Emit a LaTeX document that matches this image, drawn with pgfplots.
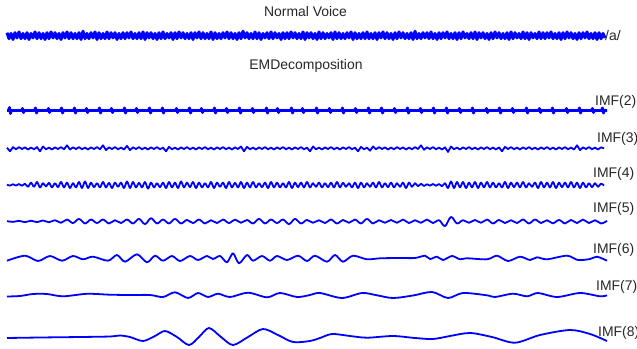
\documentclass[border=0pt]{standalone}
\usepackage{fontspec}
\setmainfont{Liberation Sans}
\usepackage{pgfplots}
\pgfplotsset{compat=1.18}
\definecolor{sig}{RGB}{0,0,255}
\tikzset{lbl/.style={font=\fontsize{14}{16}\selectfont, text=black!85, inner sep=0pt}}
\begin{document}
\begin{tikzpicture}
\begin{axis}[
  scale only axis, width=637bp, height=349bp,
  xmin=0, xmax=637, ymin=0, ymax=349, y dir=reverse,
  hide axis, clip=false,
  every axis plot/.append style={sig, line join=round, no markers},
]
\path (axis cs:0,0) rectangle (axis cs:637,349);
% Normal voice /a/
\addplot[line width=3bp] table[header=false, row sep=\\, x expr=7+2*\coordindex, y expr=35.7-0.75*\thisrowno{0}] {
4\\-4\\3\\-5\\4\\-3\\5\\-4\\3\\-4\\4\\-5\\3\\-3\\5\\-4\\4\\-4\\3\\-5\\4\\-4\\5\\-3\\4\\-4\\3\\-5\\4\\-3\\
5\\-4\\4\\-4\\3\\-4\\4\\-5\\6\\-4\\3\\-4\\4\\-3\\5\\-5\\4\\-4\\3\\-4\\5\\-4\\4\\-3\\4\\-5\\3\\-4\\4\\-4\\
4\\-3\\5\\-4\\3\\-4\\4\\-4\\5\\-5\\4\\-3\\4\\-4\\3\\-5\\4\\-4\\5\\-4\\3\\-3\\4\\-5\\4\\-4\\5\\-3\\4\\-4\\
3\\-4\\4\\-5\\4\\-3\\5\\-4\\4\\-4\\3\\-4\\5\\-5\\4\\-4\\3\\-4\\4\\-3\\5\\-4\\4\\-4\\3\\-5\\4\\-4\\6\\-3\\
4\\-4\\3\\-4\\5\\-4\\4\\-5\\3\\-3\\4\\-4\\5\\-4\\4\\-3\\3\\-5\\4\\-4\\4\\-4\\5\\-3\\4\\-4\\3\\-4\\5\\-5\\
4\\-3\\4\\-4\\3\\-5\\5\\-4\\4\\-4\\3\\-3\\4\\-5\\5\\-4\\4\\-4\\3\\-4\\4\\-3\\5\\-5\\4\\-4\\3\\-4\\4\\-4\\
5\\-4\\3\\-4\\4\\-5\\4\\-3\\5\\-4\\4\\-4\\3\\-5\\4\\-4\\5\\-3\\4\\-4\\3\\-4\\4\\-5\\6\\-4\\3\\-4\\4\\-3\\
4\\-4\\5\\-4\\3\\-5\\4\\-4\\4\\-3\\5\\-4\\3\\-4\\4\\-5\\4\\-4\\5\\-3\\3\\-4\\4\\-4\\5\\-5\\4\\-3\\4\\-4\\
3\\-5\\4\\-4\\5\\-3\\4\\-4\\3\\-4\\4\\-5\\5\\-4\\4\\-3\\3\\-4\\5\\-4\\4\\-5\\4\\-3\\3\\-4\\5\\-4\\4\\-4\\
4\\-3\\5\\-4\\3\\-4\\4\\-5\\4\\-4\\5\\-3\\4\\-4\\3\\-5\\4\\-4\\4\\-3\\5\\-4\\3\\-4\\4\\-5\\4\\-4\\3\\-3\\
};
% IMF(2)
\addplot[line width=2.8bp] coordinates {
(7,110.5)(8.5,110.5)(9.5,107.5)(10.5,113.5)(11.5,110.5)
(21.5,110.5)(22.5,108.5)(23.5,112.5)(24.5,110.5)
(34.5,110.5)(35.5,108)(36.5,113)(37.5,110.5)
(47.5,110.5)(48.5,108.5)(49.5,112.5)(50.5,110.5)
(60.5,110.5)(61.5,108)(62.5,113)(63.5,110.5)
(73.5,110.5)(74.5,108)(75.5,113)(76.5,110.5)
(85.5,110.5)(86.5,108.5)(87.5,112.5)(88.5,110.5)
(98.5,110.5)(99.5,108)(100.5,113)(101.5,110.5)
(110.5,110.5)(111.5,108.5)(112.5,112.5)(113.5,110.5)
(123.5,110.5)(124.5,108)(125.5,113)(126.5,110.5)
(135.5,110.5)(136.5,108.5)(137.5,112.5)(138.5,110.5)
(148.5,110.5)(149.5,108)(150.5,113)(151.5,110.5)
(161.5,110.5)(162.5,108)(163.5,113)(164.5,110.5)
(175.5,110.5)(176.5,108.5)(177.5,112.5)(178.5,110.5)
(188.5,110.5)(189.5,108)(190.5,113)(191.5,110.5)
(200.5,110.5)(201.5,108.5)(202.5,112.5)(203.5,110.5)
(213.5,110.5)(214.5,108)(215.5,113)(216.5,110.5)
(225.5,110.5)(226.5,108.5)(227.5,112.5)(228.5,110.5)
(238.5,110.5)(239.5,108)(240.5,113)(241.5,110.5)
(251.5,110.5)(252.5,108.5)(253.5,112.5)(254.5,110.5)
(265.5,110.5)(266.5,108)(267.5,113)(268.5,110.5)
(276.5,110.5)(277.5,108.5)(278.5,112.5)(279.5,110.5)
(290.5,110.5)(291.5,108)(292.5,113)(293.5,110.5)
(301.5,110.5)(302.5,108.5)(303.5,112.5)(304.5,110.5)
(315.5,110.5)(316.5,108)(317.5,113)(318.5,110.5)
(328.5,110.5)(329.5,108.5)(330.5,112.5)(331.5,110.5)
(341.5,110.5)(342.5,108)(343.5,113)(344.5,110.5)
(354.5,110.5)(355.5,108.5)(356.5,112.5)(357.5,110.5)
(367.5,110.5)(368.5,108)(369.5,113)(370.5,110.5)
(380.5,110.5)(381.5,108)(382.5,113)(383.5,110.5)
(393.5,110.5)(394.5,108.5)(395.5,112.5)(396.5,110.5)
(406.5,110.5)(407.5,108)(408.5,113)(409.5,110.5)
(419.5,110.5)(420.5,108.5)(421.5,112.5)(422.5,110.5)
(432.5,110.5)(433.5,108)(434.5,113)(435.5,110.5)
(445.5,110.5)(446.5,108)(447.5,113)(448.5,110.5)
(458.5,110.5)(459.5,108.5)(460.5,112.5)(461.5,110.5)
(471.5,110.5)(472.5,108)(473.5,113)(474.5,110.5)
(485.5,110.5)(486.5,108.5)(487.5,112.5)(488.5,110.5)
(498.5,110.5)(499.5,108)(500.5,113)(501.5,110.5)
(511.5,110.5)(512.5,108.5)(513.5,112.5)(514.5,110.5)
(525.5,110.5)(526.5,108)(527.5,113)(528.5,110.5)
(538.5,110.5)(539.5,108.5)(540.5,112.5)(541.5,110.5)
(551.5,110.5)(552.5,108)(553.5,113)(554.5,110.5)
(565.5,110.5)(566.5,108.5)(567.5,112.5)(568.5,110.5)
(578.5,110.5)(579.5,108)(580.5,113)(581.5,110.5)
(591.5,110.5)(592.5,108.5)(593.5,112.5)(594.5,110.5)
(601.5,110.5)(602.5,108)(603.5,113)(604.5,110.5)(607,110.5)
};
% IMF(3)
\addplot[line width=1.8bp] table[header=false, row sep=\\, x expr=7+3*\coordindex, y expr=148.3-1.2*\thisrowno{0}] {
0.5\\-2.5\\1\\-0.8\\1\\-0.6\\0.8\\-1\\0.6\\-0.8\\1\\-2.5\\1.5\\-0.8\\0.6\\-1\\0.8\\-0.6\\1\\-0.8\\
2.5\\-1\\0.8\\-0.6\\1\\-0.8\\0.6\\-1\\0.8\\-0.6\\1\\-0.8\\2.5\\-1.5\\0.8\\-0.6\\1\\-0.8\\0.6\\-1\\
2\\-1.5\\0.8\\-0.6\\1\\-0.8\\0.6\\-1\\0.8\\-0.6\\1\\-0.8\\0.6\\-2.5\\1.2\\-0.8\\0.6\\-1\\0.8\\-0.6\\
1\\-0.8\\0.6\\-1\\0.8\\-0.6\\1\\-0.8\\0.6\\-1\\0.8\\-0.6\\1\\-0.8\\0.6\\-1\\0.8\\-0.6\\1.5\\-2.5\\
1.2\\-0.8\\0.6\\-1\\0.8\\-0.6\\1\\-0.8\\0.6\\-1\\0.8\\-0.6\\1\\-0.8\\0.6\\-1\\0.8\\-0.6\\1\\-0.8\\
0.6\\-2.5\\1.5\\-0.8\\0.6\\-1\\0.8\\-0.6\\1\\-0.8\\0.6\\-1\\0.8\\-0.6\\1\\-0.8\\0.6\\-2.5\\1.2\\-0.8\\
0.6\\-2\\1.5\\-0.8\\1\\-0.6\\0.8\\-1\\0.6\\-0.8\\1\\-0.6\\0.8\\-1\\0.6\\-0.8\\1\\-0.6\\2.5\\-1.2\\
0.8\\-0.6\\1\\-0.8\\0.6\\-1\\0.8\\-3\\1.5\\-0.8\\0.6\\-1\\0.8\\-0.6\\1\\-0.8\\0.6\\-1\\0.8\\-0.6\\
1\\-0.8\\0.6\\-1\\0.8\\-2.5\\1.2\\-0.6\\1\\-0.8\\0.6\\-1\\0.8\\-0.6\\1\\-0.8\\0.6\\-1\\0.8\\-0.6\\
1\\-0.8\\0.6\\-1\\0.8\\-0.6\\1\\-0.8\\0.6\\-1\\2.5\\-1.5\\0.8\\-0.6\\1\\-0.8\\0.6\\-1\\0.8\\0\\
};
% IMF(4)
\addplot[line width=1.8bp, smooth, tension=0.5] table[header=false, row sep=\\, x expr=7+3*\coordindex, y expr=185-1.2*\thisrowno{0}] {
0.3\\-0.5\\0.6\\-0.5\\0.8\\-0.6\\1\\-1.5\\2\\-1.5\\2.5\\-2\\1.5\\-1.2\\1.8\\-2\\1.5\\-1.8\\2.5\\-2\\
2\\-2.5\\1.5\\-2\\2.5\\-2.5\\3\\-2.5\\2\\-1.8\\1.5\\-2\\2.5\\-2\\1.8\\-2.5\\2\\-1.5\\2\\-2.5\\
3\\-2.5\\2.5\\-2\\1.8\\-2\\2.5\\-3\\2\\-2\\1.5\\-1.8\\2\\-2.5\\2.5\\-2\\2\\-2.5\\3\\-2\\
2\\-1.8\\2.5\\-2.5\\2\\-2\\1.5\\-2\\2.5\\-2.5\\2\\-1.5\\2\\-2.5\\2.5\\-2\\1.8\\-2\\2.5\\-2.5\\
2\\-2\\2.5\\-2\\1.5\\-1.8\\2\\-2.5\\2.5\\-2\\2\\-2\\1.5\\-2\\2.5\\-2.5\\2\\-1.8\\2\\-2\\
2.5\\-2\\1.5\\-1.5\\2\\-2\\1.5\\-1.8\\2\\-2\\2.5\\-2\\1.8\\-1.5\\1.5\\-2\\2\\-2.5\\2\\-2\\
1.5\\-1.5\\2\\-2\\2.5\\-2\\1.5\\-1.8\\2\\-2\\1.5\\-1.5\\2\\-2.5\\2\\-1.5\\1.5\\-1\\1\\-0.8\\
0.6\\-0.5\\0.8\\-0.6\\0.8\\-1\\1.5\\-2.5\\3\\-2.5\\2.5\\-2\\2.5\\-2.5\\2\\-2\\2.5\\-2.5\\2\\-2\\
2.5\\-2\\2\\-2\\1.5\\-2\\2.5\\-2.5\\2\\-1.8\\2\\-2\\2.5\\-2\\1.5\\-1.5\\2\\-2.5\\2.5\\-2\\
2\\-2\\2.5\\-2.5\\2\\-1.8\\2\\-2\\2.5\\-2\\2\\-2.5\\2\\-2\\1.5\\-1.8\\1.5\\-1.5\\1.2\\-0.5\\
};
% IMF(5)
\addplot[line width=1.8bp, smooth, tension=0.6] table[header=false, row sep=\\, x expr=7+6*\coordindex, y expr=221.5-1.3*\thisrowno{0}] {
0.3\\-0.3\\0.5\\-0.5\\0.6\\-0.5\\0.8\\-0.6\\1\\-1\\1.5\\-1.2\\2\\-1.5\\1.5\\-1.2\\1.5\\-1.5\\1\\-1.2\\
1.5\\-1.5\\2\\-2\\2.5\\-1.5\\1.5\\-1.5\\2\\-1.5\\1.2\\-1.2\\1.5\\-1.5\\1\\-1.2\\1.5\\-1.2\\1.5\\-1\\
1.2\\-1.5\\2\\-1.5\\1.5\\-1.2\\1.5\\-2\\2\\-1.5\\1.2\\-1\\1\\-1.2\\1.5\\-1.5\\1.2\\-1\\1.5\\-1.5\\
2\\-1.5\\1\\-1\\1.2\\-1\\1.5\\-1.2\\1\\-1\\1.5\\-1.2\\1\\-3.5\\3.5\\-1.5\\1\\-1\\1.2\\-1\\
1.5\\-1.5\\1.2\\-1.2\\1\\-1.2\\1.5\\-1.5\\1.5\\-1.2\\1\\-1.5\\1.2\\-1.5\\1.2\\-1.2\\1.5\\-1.2\\1\\-1.5\\
0.5\\
};
% IMF(6)
\addplot[line width=1.8bp, smooth, tension=0.5] coordinates {
(7,260.7)(25,255.7)(38,261)(50,256)(62,260.7)(73,256)(83,259.3)(93,256.7)(108,260.7)
(117,255)(125,261.7)(137,254.3)(147,262.3)(155,255.7)(163,260.7)(172,256)(180,261)
(190,256)(198,260)(207,256)(213,259)(220,256)(227,262.3)(233,253.3)(239,263.3)(247,255)
(253,260.7)(262,256)(270,260.7)(277,256)(287,260)(298,255.7)(307,261)(315,255.7)
(327,261.7)(335,255)(343,261.7)(353,255.7)(367,259.3)(380,258.3)(400,258)(415,258)
(425,255.7)(430,259)(437,256.7)(443,260)(452,256)(460,259.3)(467,258.3)(487,259.3)
(497,255.7)(508,261)(520,256.7)(530,260)(537,257.3)(547,259.3)(567,255.7)(578,260)
(590,259)(597,256.7)(607,260.7)
};
% IMF(7)
\addplot[line width=1.8bp, smooth, tension=0.5] coordinates {
(7,296.5)(20,296)(33,294)(47,294)(63,296.3)(87,293.8)(110,294.7)(130,295)(150,295)
(163,297)(175,292.3)(188,298)(198,293)(208,297)(218,293.7)(230,297)(248,292.7)
(267,297.3)(280,293)(297,297)(310,295)(320,293)(342,298)(362,293)(377,295.3)
(393,298)(413,295.5)(432,292)(448,298)(463,293)(487,295.3)(495,297)(513,293.7)
(527,296.3)(538,293)(557,297)(580,293)(600,296.3)(607,295.3)
};
% IMF(8)
\addplot[line width=1.8bp, smooth, tension=0.5] coordinates {
(7,338)(40,337.5)(80,337)(110,336.5)(120,335.5)(130,337)(143,341)(155,336)(165,331)
(177,337)(189,345)(199,337)(209,328)(221,337)(233,345)(248,337)(263,329)(278,335)
(293,342)(310,341)(320,338)(332,334)(350,336)(367,337.7)(393,336)(415,338)(433,339)
(450,336)(470,333)(492,337)(515,342.7)(540,335)(570,330)(590,334)(607,341)
};
% labels
\node[lbl, anchor=base] at (axis cs:305.5,17) {Normal Voice};
\node[lbl, anchor=base] at (axis cs:306,69) {EMDecomposition};
\node[lbl, anchor=base west, overlay] at (axis cs:605,40) {/a/};
\node[lbl, anchor=base west, overlay] at (axis cs:595,105) {IMF(2)};
\node[lbl, anchor=base west, overlay] at (axis cs:597,142) {IMF(3)};
\node[lbl, anchor=base west, overlay] at (axis cs:593,177) {IMF(4)};
\node[lbl, anchor=base west, overlay] at (axis cs:593,212) {IMF(5)};
\node[lbl, anchor=base west, overlay] at (axis cs:593,253) {IMF(6)};
\node[lbl, anchor=base west, overlay] at (axis cs:596,290) {IMF(7)};
\node[lbl, anchor=base west, overlay] at (axis cs:598,336) {IMF(8)};
\end{axis}
\end{tikzpicture}
\end{document}
